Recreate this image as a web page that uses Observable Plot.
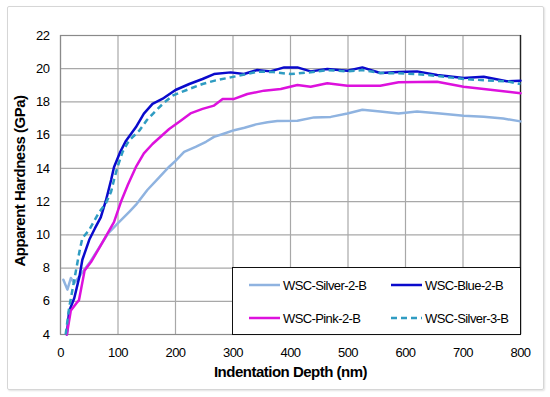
<!DOCTYPE html>
<html>
<head>
<meta charset="utf-8">
<script src="https://cdn.jsdelivr.net/npm/d3@7"></script>
<script src="https://cdn.jsdelivr.net/npm/@observablehq/plot@0.6"></script>
<style>
  html, body { margin: 0; padding: 0; background: #fff; }
  #wrap { position: relative; width: 550px; height: 397px; font-family: "Liberation Sans", Arial, sans-serif; }
  #border { position: absolute; left: 7px; top: 6px; width: 535px; height: 382px; border: 1px solid #d6d6d6; border-radius: 2px; box-shadow: 1px 1px 2px rgba(0,0,0,0.12); }
  #chart { position: absolute; left: 0; top: 0; }
  #legend { position: absolute; left: 232px; top: 267px; width: 287px; height: 66px; border: 1px solid #111; background: #fff; font-size: 13px; letter-spacing: -0.6px; color: #000; }
  .item { position: absolute; display: flex; align-items: center; }
  .item svg { margin-right: 3px; }
</style>
</head>
<body>
<div id="wrap">
  <div id="border"></div>
  <div id="chart"></div>
  <div id="legend"></div>
</div>
<script>
const seriesNames = ["WSC-Silver-2-B", "WSC-Blue-2-B", "WSC-Pink-2-B", "WSC-Silver-3-B"];
const seriesColors = ["#8fb3e0", "#0a0acc", "#dd11dd", "#2f9cc2"];
const seriesDash = [null, null, null, "6,4"];

const xTicks = [0, 100, 200, 300, 400, 500, 600, 700, 800];
const yTicks = [4, 6, 8, 10, 12, 14, 16, 18, 20, 22];

const depthSilver2 = [5, 12, 18, 24, 35, 50, 65, 82, 100, 120, 131, 151, 170, 189, 200, 215, 235, 253, 267, 285, 302, 320, 340, 360, 377, 412, 441, 470, 499, 525, 556, 588, 620, 660, 701, 736, 770, 800];
const hardSilver2  = [7.3, 6.7, 7.4, 7.1, 7.6, 8.3, 9.1, 10.05, 10.7, 11.4, 11.8, 12.7, 13.4, 14.1, 14.45, 15.0, 15.3, 15.6, 15.9, 16.1, 16.3, 16.45, 16.65, 16.78, 16.85, 16.87, 17.07, 17.1, 17.3, 17.53, 17.42, 17.31, 17.43, 17.3, 17.17, 17.11, 17.0, 16.83];

const depthBlue = [11, 15, 24, 33, 38, 50, 60, 70, 79, 88, 93, 104, 114, 131, 145, 160, 177, 200, 224, 247, 267, 296, 319, 342, 365, 389, 412, 435, 464, 499, 525, 556, 588, 620, 655, 701, 736, 776, 800];
const hardBlue  = [4.0, 5.4, 6.2, 7.5, 8.5, 9.7, 10.4, 11.05, 12.07, 13.3, 14.07, 15.0, 15.67, 16.47, 17.3, 17.88, 18.18, 18.72, 19.08, 19.38, 19.68, 19.78, 19.68, 19.92, 19.84, 20.08, 20.08, 19.84, 19.98, 19.88, 20.08, 19.74, 19.8, 19.84, 19.62, 19.44, 19.52, 19.24, 19.28];

const depthPink = [11, 18, 28, 32, 42, 53, 70, 93, 106, 117, 131, 145, 160, 189, 209, 226, 247, 267, 282, 302, 325, 354, 383, 412, 435, 464, 499, 556, 588, 655, 701, 736, 800];
const hardPink  = [4.0, 5.45, 5.9, 6.05, 7.86, 8.36, 9.36, 10.76, 12.07, 13.0, 14.07, 14.9, 15.47, 16.37, 16.87, 17.31, 17.58, 17.78, 18.18, 18.18, 18.48, 18.68, 18.78, 19.02, 18.92, 19.12, 18.98, 18.98, 19.18, 19.22, 18.92, 18.78, 18.52];

const depthSilver3 = [9, 15, 24, 33, 38, 50, 67, 79, 88, 93, 99, 108, 119, 137, 150, 166, 180, 195, 209, 224, 247, 270, 296, 320, 342, 370, 400, 435, 464, 499, 525, 556, 588, 620, 660, 701, 740, 776, 800];
const hardSilver3  = [4.0, 5.6, 7.3, 9.0, 9.8, 10.3, 11.35, 11.9, 12.6, 13.3, 14.07, 15.0, 15.67, 16.27, 16.9, 17.48, 17.95, 18.38, 18.58, 18.78, 19.08, 19.3, 19.48, 19.65, 19.82, 19.8, 19.68, 19.78, 19.92, 19.84, 19.92, 19.74, 19.72, 19.68, 19.55, 19.38, 19.3, 19.24, 19.08];

const depths = [depthSilver2, depthBlue, depthPink, depthSilver3];
const hards = [hardSilver2, hardBlue, hardPink, hardSilver3];
const data = [];
seriesNames.forEach((s, i) => depths[i].forEach((d, j) => data.push({series: s, depth: d, hardness: hards[i][j]})));

const font = '"Liberation Sans", Arial, sans-serif';

const lineMarks = seriesNames.map((s, i) =>
  Plot.line(data.filter(d => d.series === s), {
    x: "depth", y: "hardness",
    stroke: seriesColors[i], strokeWidth: 2.5,
    strokeDasharray: seriesDash[i] || undefined,
    strokeLinejoin: "round", strokeLinecap: seriesDash[i] ? "butt" : "round"
  })
);

const chart = Plot.plot({
  width: 550, height: 397,
  marginLeft: 60, marginRight: 30, marginTop: 35, marginBottom: 63,
  style: {fontFamily: font, background: "transparent", overflow: "visible"},
  x: {domain: [0, 800]},
  y: {domain: [4, 22]},
  marks: [
    Plot.gridX(xTicks, {stroke: "#a8a8a8", strokeOpacity: 1, strokeWidth: 1.2}),
    Plot.gridY(yTicks, {stroke: "#a8a8a8", strokeOpacity: 1, strokeWidth: 1.2}),
    Plot.frame({stroke: "#8a8a8a", strokeWidth: 1.2}),
    Plot.ruleX([800], {stroke: "#222", strokeWidth: 1.3}),
    ...lineMarks,
    Plot.axisX(xTicks, {tickSize: 0, tickPadding: 13, label: null, fontSize: 13, fill: "#000"}),
    Plot.axisY(yTicks, {tickSize: 0, tickPadding: 11, label: null, fontSize: 13, fill: "#000"}),
    Plot.text(["Indentation Depth (nm)"], {frameAnchor: "bottom", dy: 42, fontSize: 15, fontWeight: "bold", fill: "#000"}),
    Plot.text(["Apparent Hardness (GPa)"], {frameAnchor: "left", textAnchor: "middle", dx: -40, dy: -4, rotate: -90, fontSize: 15, fontWeight: "bold", fill: "#000"})
  ]
});
chart.querySelectorAll("text").forEach(t => t.style.letterSpacing = "-0.5px");
document.getElementById("chart").appendChild(chart);

// legend
const legend = document.getElementById("legend");
const pos = [[16, 17], [158, 17], [16, 50], [158, 50]];
seriesNames.forEach((s, i) => {
  const item = document.createElement("div");
  item.className = "item";
  item.style.left = pos[i][0] + "px";
  item.style.top = (pos[i][1] - 9) + "px";
  item.style.height = "18px";
  const sw = `<svg width="31" height="6"><line x1="0" y1="3" x2="31" y2="3" stroke="${seriesColors[i]}" stroke-width="2.5" ${seriesDash[i] ? `stroke-dasharray="${seriesDash[i]}"` : ""}/></svg>`;
  item.innerHTML = sw + `<span>${s}</span>`;
  legend.appendChild(item);
});
</script>
</body>
</html>
